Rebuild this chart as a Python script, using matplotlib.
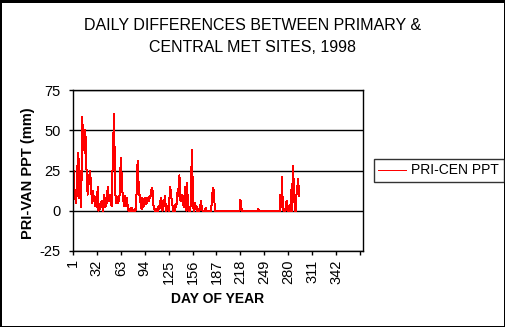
import matplotlib
matplotlib.use('Agg')
import matplotlib.pyplot as plt
from matplotlib.patches import Rectangle

plt.rcParams['font.family'] = ['Liberation Sans', 'DejaVu Sans']

# ---- data ----
values = [
    34, 20, 7, 13, 5, 12, 31, 36, 8, 25,
    2, 18, 58, 45, 50, 36, 50, 31, 21, 10,
    16, 21, 25, 19, 10, 5, 12, 6, 9, 3,
    8, 2, 15, 0, 4, 1, 3, 6, 5, 0,
    10, 2, 8, 3, 6, 15, 6, 8, 10, 5,
    3, 22, 37, 60, 34, 10, 5, 8, 5, 9,
    6, 18, 33, 22, 12, 8, 3, 9, 5, 3,
    8, 2, 0, 0, 1, 0, 2, 0, 0, 0,
    1, 0, 3, 25, 31, 17, 10, 9, 2, 1,
    8, 2, 4, 5, 8, 4, 6, 8, 6, 9,
    8, 10, 14, 13, 4, 2, 0, 1, 0, 0,
    0, 3, 1, 5, 8, 2, 0, 6, 3, 9,
    4, 0, 3, 1, 0, 7, 15, 10, 7, 3,
    0, 1, 0, 4, 2, 11, 9, 15, 22, 7,
    6, 10, 8, 4, 2, 15, 3, 0, 17, 2,
    0, 1, 0, 8, 38, 20, 2, 0, 5, 1,
    3, 0, 0, 1, 0, 3, 6, 2, 0, 0,
    0, 0, 2, 0, 0, 0, 0, 0, 0, 0,
    6, 12, 14, 9, 0, 0, 0, 0, 0, 0,
    0, 0, 0, 0, 0, 0, 0, 0, 0, 0,
    0, 0, 0, 0, 0, 0, 0, 0, 0, 0,
    0, 0, 0, 0, 0, 0, 0, 7, 3, 0,
    0, 0, 0, 0, 0, 0, 0, 0, 0, 0,
    0, 0, 0, 0, 0, 0, 0, 0, 0, 0,
    1, 0, 0, 0, 0, 0, 0, 0, 0, 0,
    0, 0, 0, 0, 0, 0, 0, 0, 0, 0,
    0, 0, 0, 0, 0, 0, 0, 0, 0, 10,
    2, 21, 2, 0, 0, 0, 3, 6, 0, 3,
    0, 0, 4, 13, 0, 28, 19, 6, 0, 0,
    13, 15, 20, 9,
]
days = list(range(1, len(values) + 1))

xtick_pos = [1, 32, 63, 94, 125, 156, 187, 218, 249, 280, 311, 342, 373]
xtick_labels = ['1', '32', '63', '94', '125', '156', '187', '218', '249',
                '280', '311', '342', '']
yticks = [-25, 0, 25, 50, 75]

series_name = 'PRI-CEN PPT'
title_lines = ['DAILY DIFFERENCES BETWEEN PRIMARY &', 'CENTRAL MET SITES, 1998']
xlabel = 'DAY OF YEAR'
ylabel = 'PRI-VAN PPT (mm)'

# ---- figure ----
W, H = 506, 327
fig = plt.figure(figsize=(W / 100, H / 100), dpi=100)
fig.patches.append(Rectangle((0.5 / W, 0.5 / H), 1 - 1.5 / W, 1 - 1.5 / H,
                             transform=fig.transFigure, fill=False,
                             ec='black', lw=1.0, antialiased=False))

ax = fig.add_axes([73 / W, 1 - 251 / H, 290 / W, 161 / H])
line, = ax.plot(days, values, color='#ff0000', lw=0.72, label=series_name,
                antialiased=False)
ax.set_xlim(1, 377)
ax.set_ylim(-25, 75)
ax.set_yticks(yticks)
ax.set_yticklabels([str(v) for v in yticks])
ax.set_xticks(xtick_pos)
ax.set_xticklabels(xtick_labels, rotation=90)
ax.grid(axis='y', color='black', lw=1.0)
for s in ax.spines.values():
    s.set_color('black')
    s.set_linewidth(1.0)
ax.tick_params(direction='out', length=3, width=1.0, labelsize=10.5,
               colors='black')
ax.tick_params(axis='y', pad=6)
ax.tick_params(axis='x', pad=3)

for i, t in enumerate(title_lines):
    fig.text(0.5, 1 - (25 + 22 * i) / H, t, ha='center', va='center',
             fontsize=11.5)

fig.text(28 / W, 1 - 173 / H, ylabel, rotation=90, ha='center', va='center',
         fontsize=10.5, fontweight='bold')
fig.text(218 / W, 1 - 299 / H, xlabel, ha='center', va='center',
         fontsize=10, fontweight='bold')

leg = fig.legend(handles=[line], loc='center left',
                 bbox_to_anchor=(374 / W, 1 - 170.5 / H),
                 frameon=True, fancybox=False, shadow=False,
                 edgecolor='black', fontsize=10, handlelength=2.0,
                 borderpad=0.3, handletextpad=0.4, borderaxespad=0)
leg.get_frame().set_linewidth(1.0)

fig.savefig('out.png', dpi=100)
